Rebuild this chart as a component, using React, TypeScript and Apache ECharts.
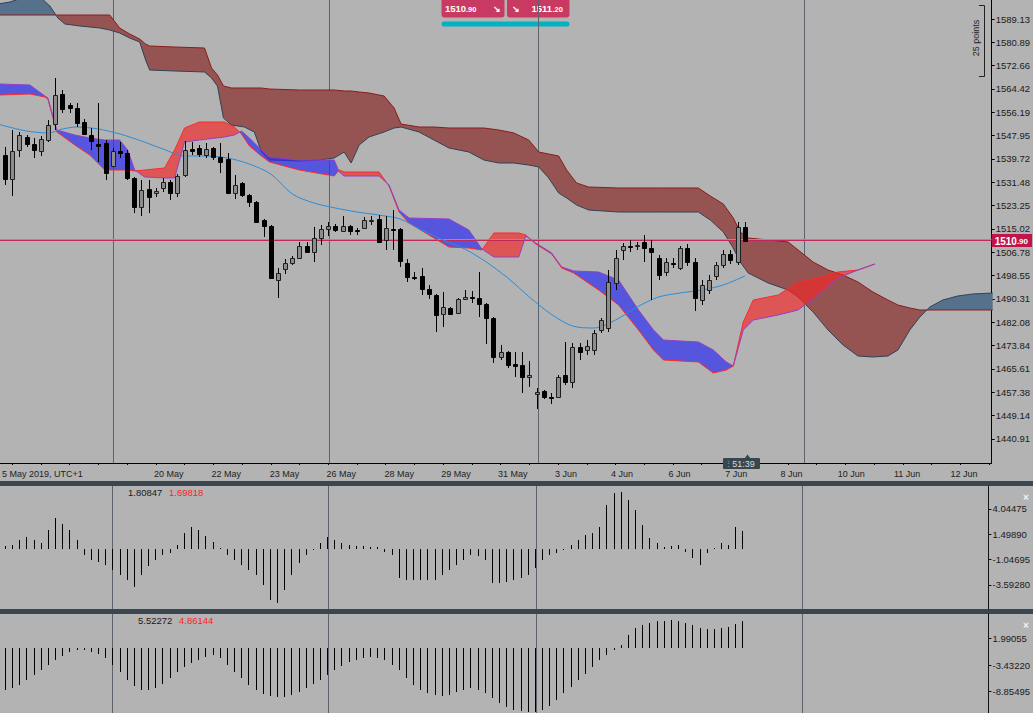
import React, { useEffect, useRef } from 'react';
import * as echarts from 'echarts';

const FONT = "'Liberation Sans', Arial, sans-serif";
const X_MIN = -0.694;
const X_MAX = 137.36;
const PRICE_MIN = 1432.35;
const PRICE_MAX = 1595.84;

const priceTicks = [1589.13, 1580.89, 1572.66, 1564.42, 1556.19, 1547.95, 1539.72, 1531.48, 1523.25, 1515.02, 1506.78, 1498.55, 1490.31, 1482.08, 1473.84, 1465.61, 1457.38, 1449.14, 1440.91];
const sub1Ticks = [4.04475, 1.4989, -1.04695, -3.5928];
const sub2Ticks = [1.99055, -3.4322, -8.85495];

const dateLabelPos = [22.8, 30.8, 38.9, 46.8, 54.9, 62.8, 70.7, 78.1, 85.9, 93.9, 101.8, 109.5, 117.8, 125.6, 133.5];
const dateLabels = ['20 May', '22 May', '23 May', '26 May', '28 May', '29 May', '31 May', '3 Jun', '4 Jun', '6 Jun', '7 Jun', '8 Jun', '10 Jun', '11 Jun', '12 Jun'];
const tickPos = [1, 5, 9, 13, 17, 21, 25, 29, 33, 37, 41, 45, 49, 53, 57, 61, 65, 69, 73, 77, 81, 85, 89, 93, 97, 101, 105, 109, 113, 117, 121, 125, 129, 133, 137];
const separatorIdx = [15, 45.1, 74.2, 111.25];
const bidAsk = [1510.9, 1511.2];

// [open, high, low, close]
const ohlc = [
  [1541.1, 1543.9, 1530.5, 1532.6], [1532.6, 1549.9, 1526.6, 1542.5], [1542.9, 1549.2, 1540.4, 1548.2], [1547.5, 1548.2, 1543.9, 1545.0],
  [1545.0, 1547.1, 1540.1, 1542.9], [1542.5, 1547.8, 1540.8, 1546.8], [1546.4, 1553.5, 1545.7, 1551.7], [1552.1, 1568.3, 1549.9, 1562.3],
  [1562.7, 1564.1, 1555.9, 1557.4], [1558.8, 1559.5, 1555.9, 1557.7], [1557.7, 1559.5, 1551.0, 1552.4], [1552.8, 1553.8, 1548.2, 1548.5],
  [1548.2, 1550.6, 1542.9, 1546.1], [1545.0, 1559.5, 1538.6, 1544.3], [1545.3, 1546.4, 1532.3, 1534.8], [1537.2, 1543.6, 1536.9, 1542.5],
  [1542.5, 1545.7, 1540.1, 1541.8], [1541.8, 1542.9, 1532.3, 1533.0], [1533.0, 1533.3, 1520.6, 1522.8], [1522.8, 1532.3, 1519.6, 1528.8],
  [1529.1, 1532.3, 1520.6, 1526.3], [1527.7, 1529.5, 1526.3, 1528.4], [1529.5, 1533.0, 1528.0, 1531.6], [1531.6, 1532.3, 1525.2, 1527.7],
  [1527.7, 1534.4, 1526.3, 1533.7], [1534.1, 1546.1, 1533.3, 1542.9], [1543.2, 1545.7, 1541.1, 1542.5], [1543.6, 1544.6, 1540.4, 1541.5],
  [1541.1, 1545.3, 1540.1, 1543.2], [1543.6, 1543.9, 1539.3, 1540.4], [1540.4, 1545.3, 1534.8, 1538.6], [1539.7, 1541.8, 1527.3, 1527.7],
  [1527.7, 1534.1, 1525.6, 1530.5], [1531.2, 1531.6, 1526.3, 1527.0], [1527.0, 1527.3, 1522.8, 1524.5], [1524.5, 1524.9, 1517.1, 1517.5],
  [1518.2, 1518.5, 1512.2, 1516.0], [1516.0, 1516.4, 1497.3, 1497.7], [1497.0, 1501.2, 1490.6, 1499.4], [1500.9, 1504.4, 1499.1, 1503.0],
  [1503.0, 1505.4, 1502.3, 1504.7], [1504.7, 1510.4, 1504.4, 1509.0], [1509.0, 1510.4, 1506.5, 1506.9], [1506.9, 1515.7, 1503.3, 1511.8],
  [1511.8, 1516.4, 1509.3, 1515.0], [1515.0, 1517.5, 1512.5, 1516.0], [1516.0, 1516.7, 1513.9, 1514.6], [1514.3, 1519.6, 1513.9, 1516.0],
  [1516.0, 1516.4, 1512.9, 1514.3], [1514.6, 1515.3, 1512.9, 1514.3], [1515.3, 1519.2, 1515.0, 1518.2], [1517.8, 1519.6, 1516.4, 1518.2],
  [1518.5, 1519.9, 1510.0, 1510.4], [1511.1, 1519.6, 1507.6, 1515.3], [1515.0, 1521.7, 1507.6, 1514.6], [1515.0, 1515.3, 1501.6, 1503.7],
  [1503.0, 1504.4, 1496.3, 1498.0], [1498.0, 1499.8, 1497.0, 1497.7], [1498.4, 1501.2, 1491.7, 1493.8], [1493.8, 1495.2, 1490.3, 1492.0],
  [1491.7, 1492.0, 1478.6, 1484.6], [1485.0, 1492.7, 1480.4, 1487.4], [1487.1, 1487.4, 1484.6, 1485.0], [1485.3, 1490.6, 1485.0, 1490.3],
  [1490.3, 1493.4, 1489.9, 1491.0], [1491.0, 1493.1, 1488.9, 1490.6], [1490.6, 1499.8, 1483.9, 1488.5], [1488.5, 1488.9, 1474.4, 1483.6],
  [1483.6, 1483.9, 1467.7, 1469.8], [1469.8, 1474.0, 1468.7, 1471.5], [1471.5, 1471.9, 1465.9, 1467.0], [1467.3, 1471.5, 1462.7, 1466.6],
  [1467.0, 1471.5, 1457.1, 1462.7], [1462.7, 1468.4, 1459.2, 1463.4], [1456.7, 1458.8, 1451.4, 1457.4], [1457.8, 1458.1, 1455.0, 1455.7],
  [1455.7, 1457.1, 1453.2, 1455.3], [1455.7, 1463.4, 1455.3, 1462.7], [1463.4, 1475.1, 1459.9, 1461.0], [1461.0, 1474.7, 1458.8, 1473.3],
  [1473.3, 1474.7, 1468.7, 1471.5], [1472.3, 1475.8, 1470.5, 1473.7], [1472.3, 1479.3, 1470.5, 1478.3], [1479.3, 1483.6, 1478.3, 1482.8],
  [1480.0, 1500.5, 1478.6, 1496.3], [1495.9, 1507.6, 1493.4, 1504.7], [1507.6, 1510.0, 1504.0, 1509.0], [1509.0, 1511.1, 1506.9, 1508.6],
  [1509.0, 1510.4, 1507.6, 1509.3], [1510.4, 1512.9, 1503.3, 1508.3], [1508.3, 1511.1, 1489.9, 1506.9], [1504.7, 1505.8, 1497.0, 1498.7],
  [1499.8, 1504.7, 1498.4, 1503.3], [1503.0, 1504.7, 1501.2, 1502.6], [1501.2, 1509.0, 1500.5, 1508.3], [1508.3, 1509.7, 1501.9, 1503.3],
  [1503.3, 1504.7, 1486.0, 1490.6], [1489.9, 1497.0, 1488.1, 1495.2], [1493.4, 1498.7, 1492.0, 1497.0], [1498.4, 1503.3, 1497.0, 1502.3],
  [1502.3, 1507.6, 1501.2, 1506.2], [1506.2, 1507.6, 1502.6, 1504.0], [1503.3, 1517.5, 1502.3, 1515.7], [1515.7, 1517.5, 1510.4, 1510.9],
];

const maIdx = [-1, 0, 3, 6, 8, 10, 13, 16, 19, 22, 25, 28, 31, 34, 37, 40, 43, 46, 49, 52, 55, 58, 61, 64, 67, 70, 73, 76, 79, 82, 85, 88, 91, 94, 97, 100, 103];
const maVal = [1552.05, 1551.35, 1549.58, 1548.88, 1550.29, 1551.0, 1550.29, 1548.52, 1546.05, 1543.23, 1540.75, 1540.75, 1540.05, 1537.93, 1534.4, 1527.34, 1524.16, 1522.39, 1520.98, 1519.92, 1518.51, 1514.62, 1511.09, 1507.92, 1503.33, 1497.68, 1490.97, 1484.96, 1480.73, 1480.02, 1482.85, 1487.44, 1490.97, 1492.38, 1493.44, 1495.2, 1498.38];

const kumoIdx = [-0.97, 0.69, 2.78, 4.86, 6.25, 7.36, 8.33, 10.42, 13.19, 14.58, 15.97, 17.36, 18.75, 19.58, 20.14, 23.61, 27.78, 28.75, 29.58, 30.42, 31.53, 33.33, 34.72, 35.69, 36.81, 40.97, 43.75, 45.83, 47.22, 48.19, 49.31, 50.69, 52.78, 54.17, 55.14, 57.64, 59.72, 61.81, 64.58, 66.67, 68.75, 70.83, 72.92, 74.31, 75.69, 77.08, 78.19, 79.58, 81.25, 85.42, 90.97, 96.53, 98.19, 100.0, 101.39, 102.36, 103.47, 106.25, 109.03, 110.42, 112.5, 114.58, 116.67, 118.75, 120.83, 122.92, 124.31, 125.97, 127.36, 128.75, 130.56, 132.64, 134.72, 137.5];
const kumoRed = [1590.54, 1590.54, 1590.54, 1590.54, 1590.54, 1590.54, 1590.54, 1590.54, 1590.54, 1590.54, 1585.95, 1583.83, 1582.07, 1580.3, 1579.6, 1579.24, 1578.89, 1571.83, 1569.36, 1565.47, 1564.77, 1564.77, 1564.77, 1564.77, 1564.41, 1564.06, 1564.06, 1564.06, 1563.71, 1563.71, 1563.35, 1563.0, 1561.94, 1557.7, 1552.05, 1550.99, 1550.99, 1550.64, 1550.64, 1550.64, 1549.94, 1548.88, 1546.4, 1542.17, 1541.46, 1540.75, 1535.81, 1531.22, 1529.81, 1529.46, 1529.46, 1529.46, 1526.63, 1523.81, 1518.86, 1513.92, 1511.8, 1511.09, 1510.39, 1507.56, 1503.33, 1500.5, 1498.73, 1496.26, 1492.73, 1489.91, 1488.14, 1487.08, 1486.38, 1486.38, 1486.38, 1486.38, 1486.38, 1486.38];
const kumoSlate = [1594.43, 1595.13, 1596.9, 1596.9, 1593.72, 1589.48, 1587.37, 1586.66, 1585.95, 1585.25, 1584.19, 1582.42, 1581.01, 1574.65, 1571.12, 1570.77, 1570.42, 1568.3, 1565.47, 1554.17, 1551.7, 1550.99, 1549.23, 1542.17, 1539.34, 1538.99, 1539.34, 1540.05, 1542.17, 1538.28, 1544.64, 1547.47, 1549.23, 1550.64, 1550.99, 1549.23, 1546.4, 1543.58, 1542.17, 1539.34, 1538.28, 1538.28, 1537.57, 1536.87, 1532.99, 1527.69, 1525.92, 1523.45, 1521.69, 1520.98, 1520.98, 1520.98, 1518.16, 1513.92, 1508.27, 1503.33, 1499.44, 1495.91, 1493.44, 1490.97, 1485.67, 1479.32, 1474.02, 1470.13, 1469.78, 1470.13, 1472.25, 1479.32, 1483.9, 1487.44, 1489.91, 1491.32, 1492.03, 1492.38];

const bandIdx = [-0.69, 3.47, 5.56, 5.97, 7.22, 9.72, 11.81, 13.89, 15.97, 17.08, 18.06, 19.44, 22.22, 23.61, 25.0, 27.08, 30.56, 31.94, 32.92, 34.03, 35.69, 36.81, 40.97, 45.83, 46.53, 47.22, 52.08, 53.47, 54.86, 56.25, 61.81, 64.58, 66.39, 68.06, 71.53, 72.5, 73.89, 76.11, 77.5, 79.17, 82.64, 85.42, 88.19, 90.28, 91.67, 96.53, 98.61, 100.42, 101.39, 102.78, 104.17, 107.64, 110.42, 113.19, 115.97, 118.75, 121.11];
const bandPurple = [1566.18, 1565.82, 1561.94, 1561.24, 1549.94, 1548.17, 1547.11, 1546.4, 1546.4, 1542.87, 1535.81, 1533.34, 1532.99, 1532.99, 1545.7, 1546.4, 1547.47, 1548.17, 1549.58, 1547.11, 1542.87, 1540.4, 1539.34, 1539.34, 1535.11, 1533.69, 1533.69, 1530.52, 1521.69, 1518.86, 1518.51, 1514.62, 1507.92, 1505.09, 1505.09, 1512.51, 1510.03, 1506.5, 1501.56, 1500.15, 1499.79, 1496.97, 1486.38, 1479.32, 1475.78, 1475.08, 1472.25, 1468.01, 1466.6, 1479.32, 1482.84, 1484.61, 1486.38, 1491.67, 1497.68, 1500.5, 1502.62];
const bandRed = [1562.29, 1562.65, 1561.59, 1560.88, 1549.23, 1544.64, 1541.11, 1535.81, 1535.81, 1535.81, 1535.46, 1535.81, 1536.52, 1542.87, 1550.64, 1552.76, 1552.76, 1550.99, 1548.52, 1544.29, 1540.75, 1538.64, 1535.81, 1533.69, 1535.81, 1535.11, 1535.11, 1530.16, 1520.98, 1517.1, 1508.62, 1508.27, 1507.56, 1513.57, 1513.57, 1512.86, 1509.68, 1506.15, 1501.21, 1499.44, 1493.44, 1488.14, 1479.32, 1472.25, 1468.72, 1468.01, 1464.13, 1465.19, 1466.6, 1482.14, 1489.91, 1491.67, 1496.26, 1497.68, 1499.79, 1500.5, 1502.62];

const hist1 = [0.29, 0.39, 0.9, 1.2, 0.9, 0.59, 1.9, 3.11, 2.5, 1.9, 0.9, -0.61, -1.12, -1.32, -1.62, -2.12, -2.63, -3.13, -3.83, -2.63, -1.72, -1.12, -0.61, -0.41, 0.39, 1.6, 2.2, 1.9, 1.3, 0.69, 0.15, -0.61, -1.12, -1.62, -2.12, -2.63, -3.63, -5.14, -5.44, -4.13, -2.63, -1.42, -0.61, -0.11, 0.59, 1.2, 0.9, 0.59, 0.39, 0.29, 0.29, 0.19, 0.19, -0.31, -0.61, -2.93, -3.13, -3.13, -3.13, -3.13, -3.13, -2.63, -2.12, -1.62, -1.12, -0.61, -0.71, -1.12, -3.43, -3.43, -3.33, -3.13, -2.93, -2.63, -1.92, -1.12, -0.61, -0.41, -0.11, 0.39, 0.9, 1.4, 1.6, 2.2, 4.42, 5.62, 5.72, 4.92, 3.91, 2.4, 1.1, 0.59, 0.19, 0.29, 0.39, -0.31, -0.92, -1.62, -0.41, 0.09, 0.59, 0.39, 2.2, 1.81];
const hist2 = [-8.45, -8.05, -7.45, -6.45, -5.44, -4.44, -3.43, -2.43, -1.63, -0.82, -0.42, -0.42, -0.82, -1.22, -2.03, -3.43, -4.84, -6.45, -7.65, -8.45, -8.45, -8.05, -7.25, -6.04, -4.84, -3.84, -3.03, -2.43, -1.83, -1.43, -2.03, -3.43, -4.84, -6.04, -7.45, -8.45, -9.26, -9.66, -9.86, -9.86, -9.46, -8.86, -8.05, -7.25, -6.45, -5.44, -4.44, -3.63, -2.83, -2.43, -2.03, -1.83, -2.03, -2.43, -3.43, -4.44, -6.04, -7.45, -8.45, -9.06, -9.46, -9.66, -9.46, -8.86, -8.45, -8.05, -8.45, -9.06, -10.06, -11.06, -11.87, -12.47, -12.87, -12.95, -12.95, -12.47, -11.67, -10.46, -9.06, -7.85, -6.45, -5.24, -3.84, -2.43, -1.43, -0.42, 0.58, 2.59, 4.0, 4.6, 5.2, 5.6, 5.6, 5.8, 5.6, 5.2, 4.6, 4.0, 3.8, 3.8, 4.0, 4.2, 4.8, 5.52];
const legend1 = ['1.80847', '1.69818'];
const legend2 = ['5.52272', '4.86144'];

type Run = { up: boolean; pts: number[][] };
function buildRuns(xs: number[], a: number[], b: number[]): Run[] {
  const runs: Run[] = [];
  const n = xs.length;
  let top: number[][] = [[xs[0], a[0]]];
  let bot: number[][] = [[xs[0], b[0]]];
  let area = a[0] - b[0];
  const close = () => runs.push({ up: area > 0, pts: top.concat(bot.slice().reverse()) });
  for (let k = 0; k < n - 1; k++) {
    const d0 = a[k] - b[k];
    const d1 = a[k + 1] - b[k + 1];
    if (d0 * d1 < 0) {
      const t = d0 / (d0 - d1);
      const xc = xs[k] + t * (xs[k + 1] - xs[k]);
      const vc = a[k] + t * (a[k + 1] - a[k]);
      top.push([xc, vc]);
      bot.push([xc, vc]);
      close();
      top = [[xc, vc]];
      bot = [[xc, vc]];
      area = 0;
    }
    area += d1;
    top.push([xs[k + 1], a[k + 1]]);
    bot.push([xs[k + 1], b[k + 1]]);
    if (d1 === 0 && k + 1 < n - 1) {
      close();
      top = [[xs[k + 1], a[k + 1]]];
      bot = [[xs[k + 1], b[k + 1]]];
      area = 0;
    }
  }
  close();
  return runs;
}

function bandSeries(runs: Run[], upColor: string, downColor: string, z: number) {
  return {
    type: 'custom', xAxisIndex: 0, yAxisIndex: 0, z, silent: true,
    data: runs.map((r, k) => [r.pts[0][0], r.pts[0][1], k]),
    encode: { x: 0, y: 1 },
    renderItem: (params: any, api: any) => {
      const r = runs[params.dataIndex];
      return {
        type: 'polygon',
        shape: { points: r.pts.map((p) => api.coord(p)) },
        style: { fill: r.up ? upColor : downColor, stroke: null },
      };
    },
  };
}

function sepSeries(gi: number, yv: number) {
  return {
    type: 'custom', xAxisIndex: gi, yAxisIndex: gi, z: 1, silent: true,
    data: separatorIdx.map((v) => [v, yv]),
    encode: { x: 0, y: 1 },
    renderItem: (params: any, api: any) => {
      const x = Math.round(api.coord([api.value(0), api.value(1)])[0]) + 0.5;
      const cs = params.coordSys;
      return { type: 'line', shape: { x1: x, y1: cs.y, x2: x, y2: cs.y + cs.height }, style: { stroke: '#5c636b', lineWidth: 1 } };
    },
  };
}

function histSeries(gi: number, vals: number[]) {
  return {
    type: 'custom', xAxisIndex: gi, yAxisIndex: gi, z: 5, silent: true,
    data: vals.map((v, i) => [i, v]),
    encode: { x: 0, y: 1 },
    renderItem: (params: any, api: any) => {
      const i = api.value(0);
      const v = api.value(1);
      const p0 = api.coord([i, 0]);
      const p1 = api.coord([i, v]);
      const x = Math.round(p0[0]) + 0.5;
      return { type: 'line', shape: { x1: x, y1: Math.round(p0[1]), x2: x, y2: Math.round(p1[1]) }, style: { stroke: '#000', lineWidth: 1 } };
    },
  };
}

function lineSeries(xs: number[], ys: number[], color: string, z: number, extra: any = {}) {
  return {
    type: 'line', xAxisIndex: 0, yAxisIndex: 0, z, silent: true, symbol: 'none',
    data: xs.map((x, i) => [x, ys[i]]),
    lineStyle: { color, width: 1 },
    ...extra,
  };
}

function subYAxis(gi: number, min: number, max: number, ticks: number[]) {
  return {
    type: 'value', gridIndex: gi, position: 'right', min, max,
    splitLine: { show: false },
    axisLine: { show: true, onZero: false, lineStyle: { color: '#111', width: 1 } },
    axisTick: { show: true, customValues: ticks, length: 3, lineStyle: { color: '#111' } },
    axisLabel: { customValues: ticks, formatter: (v: number) => v.toFixed(5), fontSize: 9.5, fontFamily: FONT, color: '#1a1a1a', margin: 4 },
  };
}

export default function App() {
  const ref = useRef<HTMLDivElement>(null);
  useEffect(() => {
    if (!ref.current) return;
    const chart = echarts.init(ref.current, undefined, { renderer: 'svg' });
    const kumoRuns = buildRuns(kumoIdx, kumoRed, kumoSlate);
    const bandRuns = buildRuns(bandIdx, bandPurple, bandRed);
    const txt = (x: number, y: number, text: string, fill: string, size: number, extra: any = {}) => ({
      type: 'text', x, y, silent: true,
      style: { text, fill, fontSize: size, fontFamily: FONT, verticalAlign: 'middle', ...extra },
    });
    const option: any = {
      animation: false,
      backgroundColor: '#b3b3b3',
      grid: [
        { left: 0, top: 0, width: 994, height: 463 },
        { left: 0, top: 486, width: 994, height: 123 },
        { left: 0, top: 614, width: 994, height: 99 },
      ],
      xAxis: [
        {
          type: 'value', gridIndex: 0, min: X_MIN, max: X_MAX, splitLine: { show: false },
          axisLine: { show: true, onZero: false, lineStyle: { color: '#000', width: 1 } },
          axisTick: { show: true, customValues: tickPos, length: 2, lineStyle: { color: '#000' } },
          axisLabel: {
            customValues: dateLabelPos,
            formatter: (v: number) => {
              const k = dateLabelPos.findIndex((p) => Math.abs(p - v) < 1e-6);
              return k >= 0 ? dateLabels[k] : '';
            },
            fontSize: 9, fontFamily: FONT, color: '#222', margin: 6, lineHeight: 9,
          },
        },
        { type: 'value', gridIndex: 1, min: X_MIN, max: X_MAX, show: false },
        { type: 'value', gridIndex: 2, min: X_MIN, max: X_MAX, show: false },
      ],
      yAxis: [
        {
          type: 'value', gridIndex: 0, position: 'right', min: PRICE_MIN, max: PRICE_MAX,
          splitLine: { show: false },
          axisLine: { show: true, onZero: false, lineStyle: { color: '#000', width: 1 } },
          axisTick: { show: true, customValues: priceTicks, length: 3, lineStyle: { color: '#000' } },
          axisLabel: { customValues: priceTicks, formatter: (v: number) => v.toFixed(2), fontSize: 9.5, fontFamily: FONT, color: '#1a1a1a', margin: 4 },
        },
        subYAxis(1, -6.01, 6.352, sub1Ticks),
        subYAxis(2, -13.18, 6.927, sub2Ticks),
      ],
      series: [
        sepSeries(0, PRICE_MIN),
        bandSeries(kumoRuns, '#955452', '#56718c', 2),
        lineSeries(kumoIdx, kumoRed, '#8a1c1c', 3),
        lineSeries(kumoIdx, kumoSlate, '#2d4358', 3),
        bandSeries(bandRuns, 'rgba(45,45,240,0.70)', 'rgba(240,40,40,0.68)', 4),
        lineSeries(bandIdx, bandRed, '#ff2a2a', 5),
        lineSeries(bandIdx, bandPurple, '#9440c8', 5),
        lineSeries(maIdx, maVal, '#2b8cd6', 6, {
          smooth: 0.3,
          markLine: {
            silent: true, symbol: ['none', 'none'], animation: false,
            data: [
              { yAxis: bidAsk[1], lineStyle: { color: '#58a6d6', width: 1, type: 'solid' }, label: { show: false } },
              {
                yAxis: bidAsk[0], lineStyle: { color: '#c0285a', width: 1, type: 'solid' },
                label: {
                  show: true, position: 'end', distance: 0,
                  formatter: () => {
                    const s = bidAsk[0].toFixed(2);
                    return '{a|' + s.slice(0, 4) + '}{b|' + s.slice(4) + '}';
                  },
                  backgroundColor: '#c0154a', padding: [2, 4, 1, 3],
                  rich: {
                    a: { fontSize: 10, fontWeight: 'bold', color: '#fff', fontFamily: FONT },
                    b: { fontSize: 8, fontWeight: 'bold', color: '#fff', fontFamily: FONT },
                  },
                },
              },
            ],
          },
        }),
        {
          type: 'custom', xAxisIndex: 0, yAxisIndex: 0, z: 7, silent: true,
          data: ohlc.map((d, i) => [i, d[0], d[1], d[2], d[3]]),
          encode: { x: 0, y: [1, 2, 3, 4] },
          renderItem: (params: any, api: any) => {
            const i = api.value(0);
            const o = api.value(1), h = api.value(2), l = api.value(3), c = api.value(4);
            const po = api.coord([i, o]);
            const xc = Math.round(po[0]) + 0.5;
            const yo = po[1];
            const yc = api.coord([i, c])[1];
            const yh = api.coord([i, h])[1];
            const yl = api.coord([i, l])[1];
            const top = Math.round(Math.min(yo, yc)) + 0.5;
            const bottom = Math.round(Math.max(yo, yc)) + 0.5;
            const bull = c >= o;
            return {
              type: 'group',
              children: [
                { type: 'line', shape: { x1: xc, y1: Math.round(yh), x2: xc, y2: Math.round(yl) }, style: { stroke: '#000', lineWidth: 1 } },
                { type: 'rect', shape: { x: xc - 2, y: top, width: 4, height: bottom - top }, style: { fill: bull ? '#8c8c8c' : '#000', stroke: bull ? '#1e1e1e' : '#000', lineWidth: 1 } },
              ],
            };
          },
        },
        sepSeries(1, 0),
        histSeries(1, hist1),
        sepSeries(2, 0),
        histSeries(2, hist2),
      ],
      graphic: [
        { type: 'rect', silent: true, shape: { x: 0, y: 481, width: 1033, height: 5 }, style: { fill: '#3a4750' } },
        { type: 'rect', silent: true, shape: { x: 0, y: 609, width: 1033, height: 5 }, style: { fill: '#3a4750' } },
        txt(2, 474, '5 May 2019, UTC+1', '#222', 9),
        // 25 points bracket
        { type: 'polyline', silent: true, shape: { points: [[979, 5.5], [984.5, 5.5], [984.5, 76.5], [979, 76.5]] }, style: { stroke: '#222', lineWidth: 1, fill: null } },
        { type: 'text', silent: true, x: 976, y: 38, rotation: Math.PI / 2, style: { text: '25 points', fill: '#222', fontSize: 9, fontFamily: FONT, align: 'center', verticalAlign: 'middle' } },
        // top buttons
        { type: 'rect', silent: true, shape: { x: 441.5, y: -3, width: 63, height: 20.5, r: 3 }, style: { fill: '#c93a62' } },
        { type: 'rect', silent: true, shape: { x: 507, y: -3, width: 62.5, height: 20.5, r: 3 }, style: { fill: '#c93a62' } },
        txt(445, 8.5, '1510', '#fff', 9.5, { fontWeight: 'bold' }),
        txt(466, 9, '.90', '#fff', 7.5, { fontWeight: 'bold' }),
        txt(493, 9, '↘', '#fff', 9, { fontWeight: 'bold' }),
        txt(512, 9, '↘', '#fff', 9, { fontWeight: 'bold' }),
        txt(531.5, 8.5, '1511', '#fff', 9.5, { fontWeight: 'bold' }),
        txt(552.5, 9, '.20', '#fff', 7.5, { fontWeight: 'bold' }),
        { type: 'rect', silent: true, shape: { x: 441.5, y: 21.5, width: 128, height: 5, r: 2.5 }, style: { fill: '#00b2c2' } },
        // countdown box
        { type: 'polygon', silent: true, z: 10, shape: { points: [[744.5, 458.5], [747.5, 454.5], [750.5, 458.5]] }, style: { fill: '#37474f' } },
        { type: 'rect', silent: true, z: 10, shape: { x: 723, y: 458, width: 37, height: 11, r: 1 }, style: { fill: '#37474f' } },
        { type: 'text', silent: true, z: 11, x: 725, y: 463.5, style: { text: '⋮', fill: '#aab4bb', fontSize: 7, fontFamily: FONT, verticalAlign: 'middle' } },
        { type: 'text', silent: true, z: 11, x: 743.5, y: 463.5, style: { text: '51:39', fill: '#d8d8d8', fontSize: 9, fontFamily: FONT, align: 'center', verticalAlign: 'middle' } },
        // sub panel legends
        txt(128, 492.5, legend1[0], '#1a1a1a', 9.5),
        txt(169, 492.5, legend1[1], '#ff1f1f', 9.5),
        txt(138, 620.5, legend2[0], '#1a1a1a', 9.5),
        txt(179, 620.5, legend2[1], '#ff1f1f', 9.5),
        txt(1023, 497, '×', '#f2f2f2', 10, { fontWeight: 'bold' }),
        txt(1023, 625, '×', '#f2f2f2', 10, { fontWeight: 'bold' }),
      ],
    };
    chart.setOption(option);
    return () => chart.dispose();
  }, []);
  return <div ref={ref} style={{ position: 'fixed', left: 0, top: 0, width: 1033, height: 713 }} />;
}
